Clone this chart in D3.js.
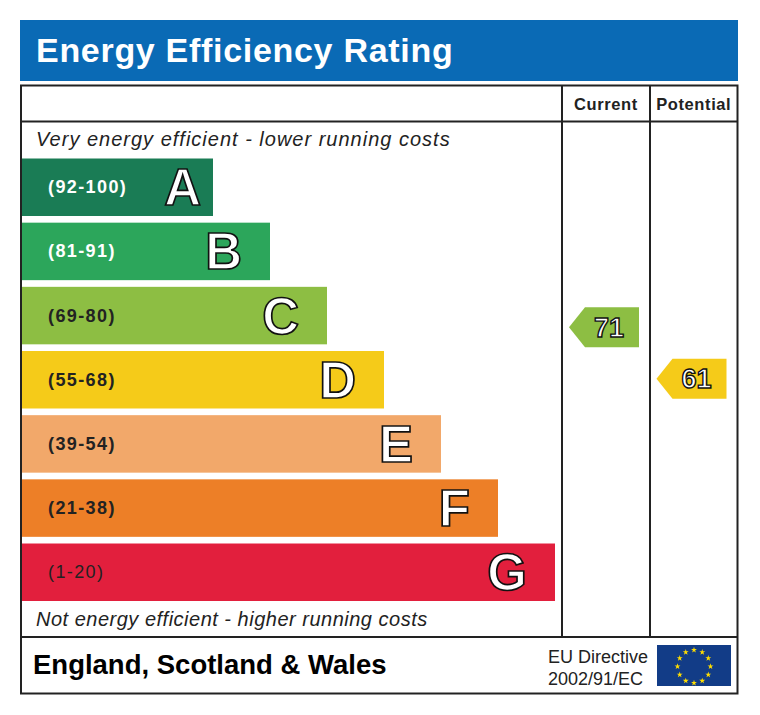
<!DOCTYPE html>
<html>
<head>
<meta charset="utf-8">
<script src="https://cdn.jsdelivr.net/npm/d3@7"></script>
<style>
  body { margin: 0; background: #fff; }
  svg text { font-family: "Liberation Sans", Arial, sans-serif; }
</style>
</head>
<body>
<svg id="chart" width="760" height="715"></svg>
<script>
// rating bands, best to worst
const bandLetters = ["A", "B", "C", "D", "E", "F", "G"];
const bandLabels = ["(92-100)", "(81-91)", "(69-80)", "(55-68)", "(39-54)", "(21-38)", "(1-20)"];
const bandMin = [92, 81, 69, 55, 39, 21, 1];
const bandMax = [100, 91, 80, 68, 54, 38, 20];
const bandColors = ["#1a7c55", "#2ca65b", "#8dbe43", "#f5cb19", "#f2a86a", "#ed7f27", "#e21f3d"];

// the two ratings shown on the right
const ratingColumns = ["Current", "Potential"];
const ratingValues = [71, 61];

const svg = d3.select("#chart");

// title bar
svg.append("rect")
    .attr("x", 20).attr("y", 20)
    .attr("width", 718).attr("height", 61)
    .attr("fill", "#0a6ab5");
svg.append("text")
    .attr("x", 36).attr("y", 62)
    .attr("fill", "#fff")
    .attr("font-size", 34)
    .attr("letter-spacing", 0.7)
    .attr("font-weight", "bold")
    .text("Energy Efficiency Rating");

// frame
const frameLeft = 21, frameRight = 737.5, frameTop = 85.5, headBottom = 121.5, footTop = 637, frameBottom = 693.5;
const col1 = 562, col2 = 650;

svg.append("rect")
    .attr("x", frameLeft).attr("y", frameTop)
    .attr("width", frameRight - frameLeft).attr("height", frameBottom - frameTop)
    .attr("fill", "#fff").attr("stroke", "#222").attr("stroke-width", 2);
svg.append("line").attr("x1", frameLeft).attr("x2", frameRight).attr("y1", headBottom).attr("y2", headBottom)
    .attr("stroke", "#222").attr("stroke-width", 2);
svg.append("line").attr("x1", frameLeft).attr("x2", frameRight).attr("y1", footTop).attr("y2", footTop)
    .attr("stroke", "#222").attr("stroke-width", 2);
[col1, col2].forEach(x => {
    svg.append("line").attr("x1", x).attr("x2", x).attr("y1", frameTop).attr("y2", footTop)
        .attr("stroke", "#222").attr("stroke-width", 2);
});

// column headers
const colCenters = [(col1 + col2) / 2, (col2 + frameRight) / 2];
svg.selectAll(".colhead")
    .data(ratingColumns)
    .join("text")
    .attr("class", "colhead")
    .attr("x", (d, i) => colCenters[i])
    .attr("y", 110)
    .attr("text-anchor", "middle")
    .attr("font-size", 16.5)
    .attr("letter-spacing", 0.6)
    .attr("font-weight", "bold")
    .attr("fill", "#222")
    .text(d => d);

svg.append("text")
    .attr("x", 36).attr("y", 146)
    .attr("font-size", 20).attr("letter-spacing", 1).attr("font-style", "italic").attr("fill", "#222")
    .text("Very energy efficient - lower running costs");
svg.append("text")
    .attr("x", 36).attr("y", 626)
    .attr("font-size", 20).attr("letter-spacing", 0.5).attr("font-style", "italic").attr("fill", "#222")
    .text("Not energy efficient - higher running costs");

// bar scales
const y = d3.scaleBand()
    .domain(bandLetters)
    .range([158.5, 601])
    .paddingInner(0.104)
    .paddingOuter(0);
const barRight = d3.scaleLinear().domain([0, 6]).range([213, 555]);

const bars = svg.selectAll(".band")
    .data(bandLetters)
    .join("g")
    .attr("class", "band");

bars.append("rect")
    .attr("x", frameLeft + 1)
    .attr("y", d => y(d))
    .attr("width", (d, i) => barRight(i) - frameLeft - 1)
    .attr("height", y.bandwidth())
    .attr("fill", (d, i) => bandColors[i]);

bars.append("text")
    .attr("x", 48)
    .attr("y", d => y(d) + y.bandwidth() / 2 + 6)
    .attr("font-size", 18)
    .attr("letter-spacing", 1.4)
    .attr("font-weight", (d, i) => i === 6 ? "normal" : "bold")
    .attr("fill", (d, i) => i < 2 ? "#fff" : "#222")
    .text((d, i) => bandLabels[i]);

bars.append("text")
    .attr("x", (d, i) => barRight(i) - (d === "A" ? 12 : 28))
    .attr("y", d => y(d) + y.bandwidth() / 2 + 18)
    .attr("text-anchor", "end")
    .attr("font-size", 51)
    .attr("font-weight", "bold")
    .attr("fill", "#fff")
    .attr("stroke", "#111")
    .attr("stroke-width", 1.7)
    .text(d => d);

// rating arrows, placed inside the band that holds the value
function bandIndex(v) {
    return bandMin.findIndex((m, i) => v >= m && v <= bandMax[i]);
}
function arrowCenter(v) {
    const i = bandIndex(v);
    const frac = (bandMax[i] - v) / (bandMax[i] - bandMin[i]);
    const t = y(bandLetters[i]), h = y.bandwidth();
    return t + h * 0.05 + frac * h * 0.8;
}

const colRights = [col2 - 11, frameRight - 11];
const arrowW = 70, arrowH = 40, tipW = 16;

const arrows = svg.selectAll(".rating")
    .data(ratingValues)
    .join("g")
    .attr("class", "rating")
    .attr("transform", (d, i) => `translate(${colRights[i]},${arrowCenter(d)})`);

arrows.append("path")
    .attr("d", `M0,${-arrowH / 2}L0,${arrowH / 2}L${-arrowW + tipW},${arrowH / 2}L${-arrowW},0L${-arrowW + tipW},${-arrowH / 2}Z`)
    .attr("fill", d => bandColors[bandIndex(d)]);

arrows.append("text")
    .attr("x", -30)
    .attr("y", 9.5)
    .attr("text-anchor", "middle")
    .attr("font-size", 27)
    .attr("font-weight", "bold")
    .attr("fill", "#fff")
    .attr("stroke", "#111")
    .attr("stroke-width", 1.4)
    .text(d => d);

// footer
svg.append("text")
    .attr("x", 33).attr("y", 674)
    .attr("font-size", 27.5).attr("font-weight", "bold").attr("fill", "#000")
    .text("England, Scotland & Wales");
svg.append("text")
    .attr("x", 548).attr("y", 663)
    .attr("font-size", 18).attr("fill", "#222")
    .text("EU Directive");
svg.append("text")
    .attr("x", 548).attr("y", 685)
    .attr("font-size", 18).attr("fill", "#222")
    .text("2002/91/EC");

// EU flag
const flag = svg.append("g").attr("transform", "translate(657,645)");
flag.append("rect").attr("width", 74).attr("height", 41).attr("fill", "#123c87");
const star = d3.symbol(d3.symbolStar).size(11);
flag.selectAll("path.star")
    .data(d3.range(12))
    .join("path")
    .attr("class", "star")
    .attr("d", star)
    .attr("fill", "#ffdd00")
    .attr("transform", k => {
        const a = k / 12 * 2 * Math.PI;
        return `translate(${37 + 16.5 * Math.sin(a)},${21.5 - 16.5 * Math.cos(a)})`;
    });
</script>
</body>
</html>
